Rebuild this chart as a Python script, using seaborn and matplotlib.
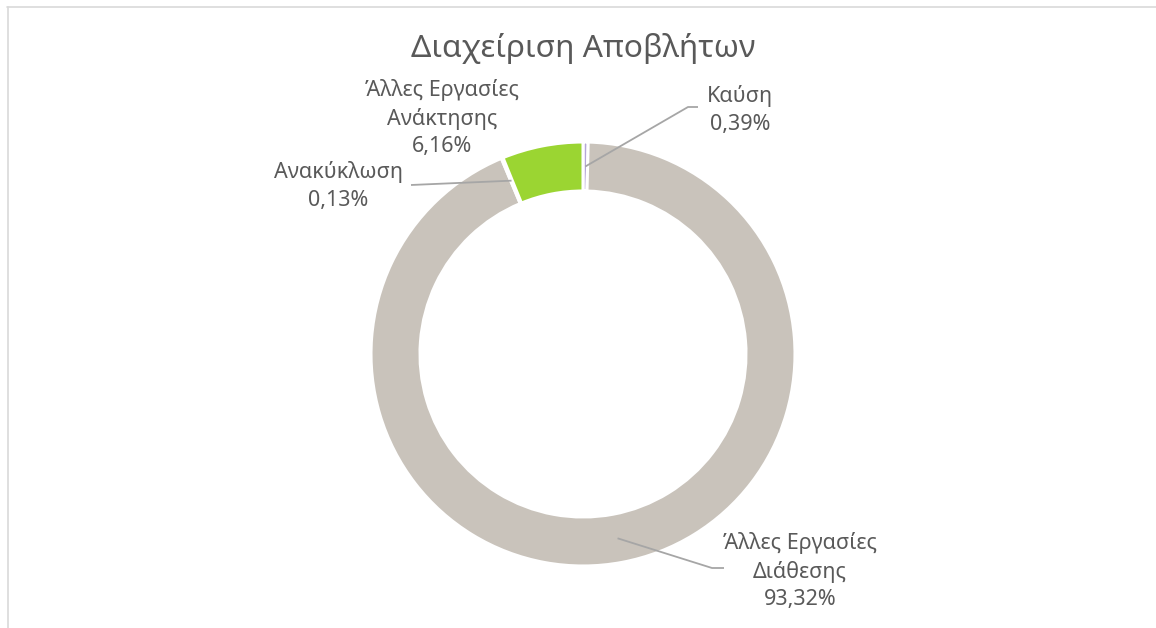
import numpy as np
import matplotlib
matplotlib.use("Agg")
import matplotlib.pyplot as plt
from matplotlib.lines import Line2D
import seaborn as sns

# Waste management breakdown (percent of total)
categories = ["Καύση", "Άλλες Εργασίες\nΔιάθεσης", "Ανακύκλωση", "Άλλες Εργασίες\nΑνάκτησης"]
shares = [0.39, 93.32, 0.13, 6.16]
value_labels = ["0,39%", "93,32%", "0,13%", "6,16%"]
slice_colors = ["#b4a7d6", "#c9c3bb", "#f4f4f4", "#9bd532"]

title = "Διαχείριση Αποβλήτων"

sns.set_theme(style="white")
plt.rcParams["font.family"] = ["Noto Sans", "DejaVu Sans"]

W, H = 1156, 628
fig = plt.figure(figsize=(W / 100, H / 100), dpi=100)
ax = fig.add_axes([0, 0, 1, 1])

# work in pixel-like units so the ring keeps its proportions
cx, cy = 583, H - 354
R = 212
ring = 49
wedges, _ = ax.pie(
    shares,
    radius=R,
    center=(cx, cy),
    startangle=90,
    counterclock=False,
    colors=slice_colors,
    wedgeprops=dict(width=ring, edgecolor="white", linewidth=2.2),
)
ax.set_xlim(0, W)
ax.set_ylim(0, H)
ax.set_aspect("equal")
ax.axis("off")

text_color = "#595959"
line_color = "#a6a6a6"
fs = 15.5


def anchor(w):
    mid = np.deg2rad((w.theta1 + w.theta2) / 2)
    rm = R - ring / 2
    return cx + rm * np.cos(mid), cy + rm * np.sin(mid)


# label layout: text centre and leader-line path (after the wedge anchor)
label_pos = [(740, H - 110), (800, H - 571), (338, H - 186), (442, H - 118)]
leader_path = [
    [(688, H - 107), (698, H - 107)],
    [(712, H - 568), (724, H - 568)],
    [(411, H - 185)],
    None,
]

for w, cat, val, pos, path in zip(wedges, categories, value_labels, label_pos, leader_path):
    if path is not None:
        ax0, ay0 = anchor(w)
        xs = [ax0] + [p[0] for p in path]
        ys = [ay0] + [p[1] for p in path]
        ax.plot(xs, ys, color=line_color, lw=1.3, solid_capstyle="butt", zorder=3)
    ax.text(pos[0], pos[1], f"{cat}\n{val}", ha="center", va="center",
            multialignment="center", fontsize=fs, color=text_color, linespacing=1.4)

ax.text(cx, H - 48, title, ha="center", va="center", fontsize=22.8, color=text_color)

# chart-area border
fig.add_artist(Line2D([7 / W, 1.2], [1 - 6.5 / H, 1 - 6.5 / H], transform=fig.transFigure,
                      color="#d9d9d9", lw=1.2))
fig.add_artist(Line2D([7.5 / W, 7.5 / W], [-0.2, 1 - 6.5 / H], transform=fig.transFigure,
                      color="#d9d9d9", lw=1.2))

fig.savefig("out.png", dpi=100, facecolor="white")
